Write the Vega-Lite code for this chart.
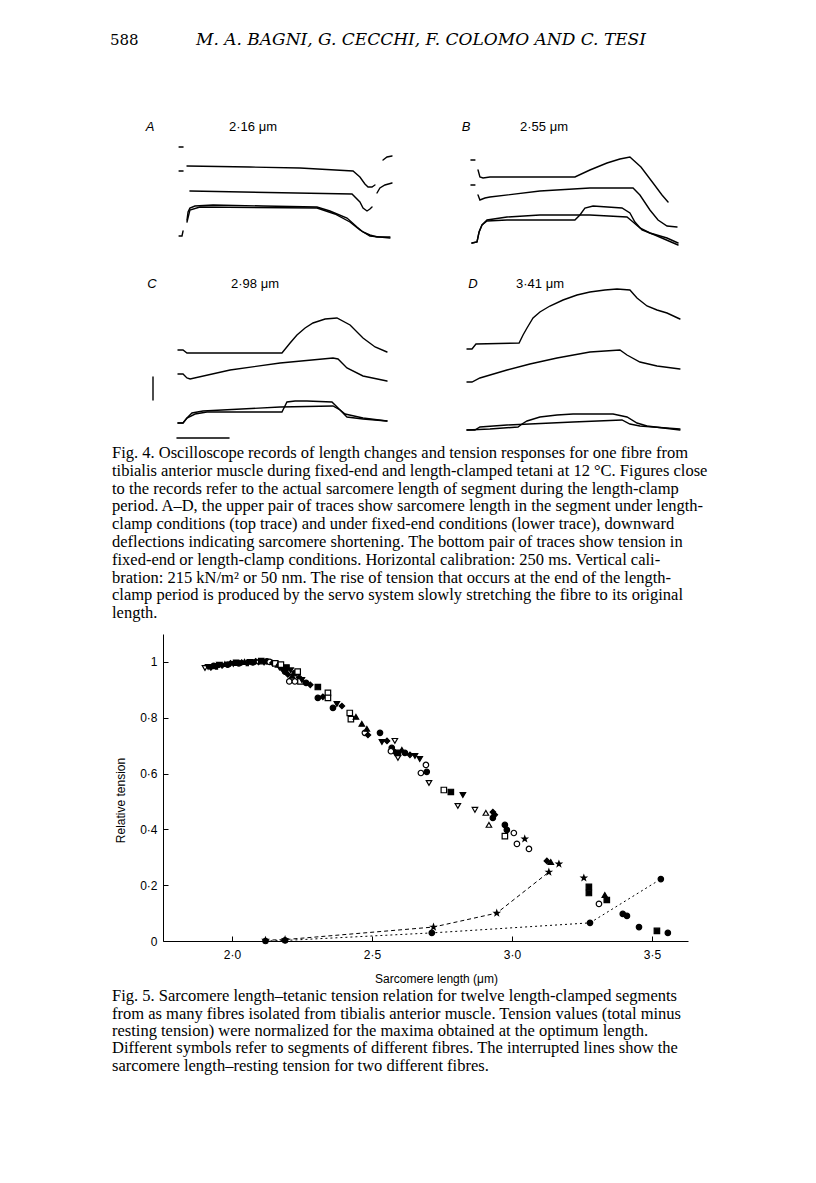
{
"$schema": "https://vega.github.io/schema/vega-lite/v6.json",
"background": "white",
"padding": {"left": 110, "top": 25, "right": 5, "bottom": 5},
"spacing": 0,
"config": {
  "view": {"stroke": null},
  "axis": {"grid": false, "domainColor": "black", "tickColor": "black", "labelColor": "black", "titleColor": "black", "labelFont": "Liberation Sans", "titleFont": "Liberation Sans", "labelFontSize": 12, "titleFontSize": 12, "titleFontWeight": "normal"}
},
"vconcat": [
  {
    "width": 297, "height": 85,
    "layer": [
      {"data": {"values": [{"page": "588"}]},
       "mark": {"type": "text", "font": "DejaVu Serif", "fontSize": 15, "align": "left", "baseline": "middle", "color": "black"},
       "encoding": {"text": {"field": "page"}, "x": {"value": -53}, "y": {"value": 15}}},
      {"data": {"values": [{"authors": "M. A. BAGNI, G. CECCHI, F. COLOMO AND C. TESI"}]},
       "mark": {"type": "text", "font": "DejaVu Serif", "fontStyle": "italic", "fontSize": 17, "align": "center", "baseline": "middle", "color": "black"},
       "encoding": {"text": {"field": "authors"}, "x": {"value": 258}, "y": {"value": 15}}}
    ]
  },
  {
    "hconcat": [
      {
        "width": 297, "height": 157,
        "layer": [
          {"data": {"values": [
            {"s":"m1","t":-38,"v":120},{"s":"m1","t":-19,"v":120},
            {"s":"m2","t":-38,"v":96},{"s":"m2","t":-19,"v":96},
            {"s":"L1a","t":0,"v":101},{"s":"L1a","t":302,"v":100},{"s":"L1a","t":542,"v":99},{"s":"L1a","t":797,"v":96},{"s":"L1a","t":830,"v":90},{"s":"L1a","t":854,"v":83},{"s":"L1a","t":869,"v":80},{"s":"L1a","t":888,"v":80},{"s":"L1a","t":902,"v":82},
            {"s":"L1b","t":941,"v":107},{"s":"L1b","t":960,"v":110},{"s":"L1b","t":984,"v":111},
            {"s":"L2a","t":14,"v":76},{"s":"L2a","t":792,"v":73},{"s":"L2a","t":830,"v":65},{"s":"L2a","t":845,"v":59},{"s":"L2a","t":864,"v":56},{"s":"L2a","t":878,"v":58},{"s":"L2a","t":888,"v":60},
            {"s":"L2b","t":912,"v":74},{"s":"L2b","t":926,"v":79},{"s":"L2b","t":950,"v":82},{"s":"L2b","t":984,"v":84},
            {"s":"J","t":-38,"v":31},{"s":"J","t":-24,"v":31},{"s":"J","t":-19,"v":36},
            {"s":"T1","t":0,"v":47},{"s":"T1","t":5,"v":55},{"s":"T1","t":14,"v":59},{"s":"T1","t":38,"v":61},{"s":"T1","t":125,"v":62},{"s":"T1","t":365,"v":61},{"s":"T1","t":624,"v":60},{"s":"T1","t":686,"v":56},{"s":"T1","t":768,"v":49},{"s":"T1","t":816,"v":40},{"s":"T1","t":845,"v":35},{"s":"T1","t":878,"v":32},{"s":"T1","t":912,"v":30},{"s":"T1","t":974,"v":30},
            {"s":"T2","t":0,"v":45},{"s":"T2","t":14,"v":57},{"s":"T2","t":62,"v":60},{"s":"T2","t":624,"v":59},{"s":"T2","t":710,"v":53},{"s":"T2","t":782,"v":45},{"s":"T2","t":830,"v":37},{"s":"T2","t":878,"v":31},{"s":"T2","t":974,"v":29}
          ]},
           "mark": {"type": "line", "color": "black", "strokeWidth": 1.4, "strokeCap": "round"},
           "encoding": {
             "x": {"field": "t", "type": "quantitative", "scale": {"domain": [-115.2, 1310.4], "nice": false, "zero": false}, "axis": null},
             "y": {"field": "v", "type": "quantitative", "scale": {"domain": [0, 157], "nice": false, "zero": false}, "axis": null},
             "detail": {"field": "s"}}},
          {"data": {"values": [{"letter": "A"}]},
           "mark": {"type": "text", "font": "Liberation Sans", "fontStyle": "italic", "fontSize": 13, "align": "center", "baseline": "middle", "color": "black"},
           "encoding": {"text": {"field": "letter"}, "x": {"value": -13}, "y": {"value": 17}}},
          {"data": {"values": [{"len": "2·16 μm"}]},
           "mark": {"type": "text", "font": "Liberation Sans", "fontSize": 13, "align": "center", "baseline": "middle", "color": "black"},
           "encoding": {"text": {"field": "len"}, "x": {"value": 90}, "y": {"value": 17}}}
        ]
      },
      {
        "width": 240, "height": 157,
        "layer": [
          {"data": {"values": [
            {"s":"m1","t":-5,"v":107},{"s":"m1","t":14,"v":107},
            {"s":"m2","t":-5,"v":82},{"s":"m2","t":14,"v":82},
            {"s":"L1","t":29,"v":97},{"s":"L1","t":38,"v":90},{"s":"L1","t":53,"v":89},{"s":"L1","t":86,"v":90},{"s":"L1","t":494,"v":90},{"s":"L1","t":566,"v":97},{"s":"L1","t":648,"v":104},{"s":"L1","t":710,"v":108},{"s":"L1","t":758,"v":110},{"s":"L1","t":811,"v":100},{"s":"L1","t":869,"v":84},{"s":"L1","t":912,"v":72},{"s":"L1","t":941,"v":65},
            {"s":"L2","t":29,"v":72},{"s":"L2","t":38,"v":67},{"s":"L2","t":62,"v":69},{"s":"L2","t":86,"v":70},{"s":"L2","t":326,"v":76},{"s":"L2","t":566,"v":79},{"s":"L2","t":773,"v":79},{"s":"L2","t":806,"v":72},{"s":"L2","t":854,"v":57},{"s":"L2","t":893,"v":47},{"s":"L2","t":936,"v":41},{"s":"L2","t":984,"v":40},
            {"s":"T1","t":0,"v":24},{"s":"T1","t":24,"v":25},{"s":"T1","t":34,"v":35},{"s":"T1","t":48,"v":42},{"s":"T1","t":72,"v":47},{"s":"T1","t":168,"v":50},{"s":"T1","t":326,"v":52},{"s":"T1","t":566,"v":52},{"s":"T1","t":744,"v":50},{"s":"T1","t":773,"v":45},{"s":"T1","t":806,"v":39},{"s":"T1","t":854,"v":34},{"s":"T1","t":936,"v":29},{"s":"T1","t":989,"v":24},
            {"s":"T2","t":0,"v":24},{"s":"T2","t":24,"v":25},{"s":"T2","t":34,"v":35},{"s":"T2","t":48,"v":42},{"s":"T2","t":72,"v":46},{"s":"T2","t":168,"v":47},{"s":"T2","t":494,"v":47},{"s":"T2","t":518,"v":52},{"s":"T2","t":542,"v":59},{"s":"T2","t":581,"v":61},{"s":"T2","t":720,"v":59},{"s":"T2","t":758,"v":54},{"s":"T2","t":782,"v":45},{"s":"T2","t":816,"v":37},{"s":"T2","t":878,"v":32},{"s":"T2","t":989,"v":22}
          ]},
           "mark": {"type": "line", "color": "black", "strokeWidth": 1.4, "strokeCap": "round"},
           "encoding": {
             "x": {"field": "t", "type": "quantitative", "scale": {"domain": [-57.6, 1094.4], "nice": false, "zero": false}, "axis": null},
             "y": {"field": "v", "type": "quantitative", "scale": {"domain": [0, 157], "nice": false, "zero": false}, "axis": null},
             "detail": {"field": "s"}}},
          {"data": {"values": [{"letter": "B"}]},
           "mark": {"type": "text", "font": "Liberation Sans", "fontStyle": "italic", "fontSize": 13, "align": "center", "baseline": "middle", "color": "black"},
           "encoding": {"text": {"field": "letter"}, "x": {"value": 6}, "y": {"value": 17}}},
          {"data": {"values": [{"len": "2·55 μm"}]},
           "mark": {"type": "text", "font": "Liberation Sans", "fontSize": 13, "align": "center", "baseline": "middle", "color": "black"},
           "encoding": {"text": {"field": "len"}, "x": {"value": 84}, "y": {"value": 17}}}
        ]
      }
    ],
    "spacing": 0,
    "bounds": "flush"
  },
  {
    "hconcat": [
      {
        "width": 297, "height": 178,
        "layer": [
          {"data": {"values": [
            {"s":"L1","t":0,"v":95},{"s":"L1","t":24,"v":95},{"s":"L1","t":43,"v":92},{"s":"L1","t":499,"v":92},{"s":"L1","t":538,"v":102},{"s":"L1","t":571,"v":110},{"s":"L1","t":610,"v":117},{"s":"L1","t":648,"v":122},{"s":"L1","t":706,"v":126},{"s":"L1","t":763,"v":127},{"s":"L1","t":826,"v":120},{"s":"L1","t":888,"v":107},{"s":"L1","t":946,"v":98},{"s":"L1","t":1003,"v":93},
            {"s":"L2","t":0,"v":71},{"s":"L2","t":24,"v":71},{"s":"L2","t":43,"v":67},{"s":"L2","t":58,"v":66},{"s":"L2","t":250,"v":75},{"s":"L2","t":490,"v":82},{"s":"L2","t":744,"v":87},{"s":"L2","t":768,"v":86},{"s":"L2","t":811,"v":77},{"s":"L2","t":888,"v":69},{"s":"L2","t":1003,"v":64},
            {"s":"T1","t":0,"v":22},{"s":"T1","t":24,"v":22},{"s":"T1","t":43,"v":27},{"s":"T1","t":67,"v":32},{"s":"T1","t":120,"v":34},{"s":"T1","t":490,"v":38},{"s":"T1","t":744,"v":39},{"s":"T1","t":778,"v":35},{"s":"T1","t":802,"v":31},{"s":"T1","t":888,"v":27},{"s":"T1","t":1003,"v":24},
            {"s":"T2","t":0,"v":22},{"s":"T2","t":24,"v":22},{"s":"T2","t":43,"v":27},{"s":"T2","t":82,"v":31},{"s":"T2","t":139,"v":33},{"s":"T2","t":499,"v":33},{"s":"T2","t":523,"v":43},{"s":"T2","t":562,"v":44},{"s":"T2","t":619,"v":44},{"s":"T2","t":739,"v":43},{"s":"T2","t":778,"v":35},{"s":"T2","t":811,"v":28},{"s":"T2","t":888,"v":26},{"s":"T2","t":1003,"v":24},
            {"s":"calV","t":-120,"v":45},{"s":"calV","t":-120,"v":68},
            {"s":"calH","t":-5,"v":7},{"s":"calH","t":245,"v":7}
          ]},
           "mark": {"type": "line", "color": "black", "strokeWidth": 1.4, "strokeCap": "round"},
           "encoding": {
             "x": {"field": "t", "type": "quantitative", "scale": {"domain": [-72, 1353.6], "nice": false, "zero": false}, "axis": null},
             "y": {"field": "v", "type": "quantitative", "scale": {"domain": [0, 178], "nice": false, "zero": false}, "axis": null},
             "detail": {"field": "s"}}},
          {"data": {"values": [{"letter": "C"}]},
           "mark": {"type": "text", "font": "Liberation Sans", "fontStyle": "italic", "fontSize": 13, "align": "center", "baseline": "middle", "color": "black"},
           "encoding": {"text": {"field": "letter"}, "x": {"value": -11}, "y": {"value": 17}}},
          {"data": {"values": [{"len": "2·98 μm"}]},
           "mark": {"type": "text", "font": "Liberation Sans", "fontSize": 13, "align": "center", "baseline": "middle", "color": "black"},
           "encoding": {"text": {"field": "len"}, "x": {"value": 92}, "y": {"value": 17}}}
        ]
      },
      {
        "width": 240, "height": 178,
        "layer": [
          {"data": {"values": [
            {"s":"L1","t":0,"v":96},{"s":"L1","t":24,"v":96},{"s":"L1","t":43,"v":101},{"s":"L1","t":250,"v":102},{"s":"L1","t":269,"v":110},{"s":"L1","t":288,"v":117},{"s":"L1","t":317,"v":127},{"s":"L1","t":350,"v":133},{"s":"L1","t":398,"v":139},{"s":"L1","t":461,"v":145},{"s":"L1","t":528,"v":150},{"s":"L1","t":590,"v":153},{"s":"L1","t":662,"v":155},{"s":"L1","t":720,"v":156},{"s":"L1","t":782,"v":155},{"s":"L1","t":816,"v":147},{"s":"L1","t":864,"v":139},{"s":"L1","t":912,"v":135},{"s":"L1","t":960,"v":132},{"s":"L1","t":1022,"v":126},
            {"s":"L2","t":0,"v":63},{"s":"L2","t":24,"v":63},{"s":"L2","t":62,"v":67},{"s":"L2","t":192,"v":75},{"s":"L2","t":302,"v":81},{"s":"L2","t":432,"v":87},{"s":"L2","t":590,"v":93},{"s":"L2","t":734,"v":95},{"s":"L2","t":768,"v":90},{"s":"L2","t":830,"v":83},{"s":"L2","t":912,"v":79},{"s":"L2","t":1022,"v":76},
            {"s":"T1","t":0,"v":15},{"s":"T1","t":38,"v":15},{"s":"T1","t":62,"v":18},{"s":"T1","t":192,"v":20},{"s":"T1","t":509,"v":23},{"s":"T1","t":744,"v":25},{"s":"T1","t":782,"v":21},{"s":"T1","t":830,"v":19},{"s":"T1","t":1022,"v":16},
            {"s":"T2","t":0,"v":15},{"s":"T2","t":110,"v":16},{"s":"T2","t":245,"v":18},{"s":"T2","t":264,"v":21},{"s":"T2","t":288,"v":24},{"s":"T2","t":350,"v":28},{"s":"T2","t":432,"v":30},{"s":"T2","t":509,"v":31},{"s":"T2","t":701,"v":31},{"s":"T2","t":768,"v":28},{"s":"T2","t":816,"v":22},{"s":"T2","t":864,"v":19},{"s":"T2","t":1022,"v":15}
          ]},
           "mark": {"type": "line", "color": "black", "strokeWidth": 1.4, "strokeCap": "round"},
           "encoding": {
             "x": {"field": "t", "type": "quantitative", "scale": {"domain": [-33.6, 1118.4], "nice": false, "zero": false}, "axis": null},
             "y": {"field": "v", "type": "quantitative", "scale": {"domain": [0, 178], "nice": false, "zero": false}, "axis": null},
             "detail": {"field": "s"}}},
          {"data": {"values": [{"letter": "D"}]},
           "mark": {"type": "text", "font": "Liberation Sans", "fontStyle": "italic", "fontSize": 13, "align": "center", "baseline": "middle", "color": "black"},
           "encoding": {"text": {"field": "letter"}, "x": {"value": 13}, "y": {"value": 17}}},
          {"data": {"values": [{"len": "3·41 μm"}]},
           "mark": {"type": "text", "font": "Liberation Sans", "fontSize": 13, "align": "center", "baseline": "middle", "color": "black"},
           "encoding": {"text": {"field": "len"}, "x": {"value": 80}, "y": {"value": 17}}}
        ]
      }
    ],
    "spacing": 0,
    "bounds": "flush"
  },
  {
    "width": 297, "height": 189,
    "data": {"values": [
      {"line": 0, "text": "Fig. 4. Oscilloscope records of length changes and tension responses for one fibre from"},
      {"line": 1, "text": "tibialis anterior muscle during fixed-end and length-clamped tetani at 12 °C. Figures close"},
      {"line": 2, "text": "to the records refer to the actual sarcomere length of segment during the length-clamp"},
      {"line": 3, "text": "period. A–D, the upper pair of traces show sarcomere length in the segment under length-"},
      {"line": 4, "text": "clamp conditions (top trace) and under fixed-end conditions (lower trace), downward"},
      {"line": 5, "text": "deflections indicating sarcomere shortening. The bottom pair of traces show tension in"},
      {"line": 6, "text": "fixed-end or length-clamp conditions. Horizontal calibration: 250 ms. Vertical cali-"},
      {"line": 7, "text": "bration: 215 kN/m² or 50 nm. The rise of tension that occurs at the end of the length-"},
      {"line": 8, "text": "clamp period is produced by the servo system slowly stretching the fibre to its original"},
      {"line": 9, "text": "length."}
    ]},
    "mark": {"type": "text", "font": "Liberation Serif", "fontSize": 16.5, "align": "left", "baseline": "middle", "color": "black"},
    "encoding": {
      "text": {"field": "text"},
      "x": {"value": -51},
      "y": {"field": "line", "type": "quantitative", "scale": {"domain": [-0.45, 10.17], "reverse": true, "nice": false, "zero": false}, "axis": null}
    }
  },
  {
    "width": 525, "height": 307,
    "layer": [
      {"data": {"values": [
        {"curve":"a","fibre":"f10","length":2.12,"tension":0.003},{"curve":"a","fibre":"f10","length":2.19,"tension":0.005},{"curve":"a","fibre":"f10","length":2.72,"tension":0.05},{"curve":"a","fibre":"f10","length":2.946,"tension":0.10},{"curve":"a","fibre":"f10","length":3.132,"tension":0.247},
        {"curve":"b","fibre":"f1","length":2.12,"tension":0.0},{"curve":"b","fibre":"f1","length":2.19,"tension":0.002},{"curve":"b","fibre":"f1","length":2.714,"tension":0.029},{"curve":"b","fibre":"f1","length":3.279,"tension":0.065},{"curve":"b","fibre":"f1","length":3.532,"tension":0.222}
      ]},
       "mark": {"type": "line", "color": "black", "strokeWidth": 1},
       "encoding": {
         "x": {"field": "length", "type": "quantitative", "scale": {"domain": [1.754, 3.629], "nice": false, "zero": false},
               "axis": {"title": "Sarcomere length (μm)", "values": [2, 2.5, 3, 3.5], "labelExpr": "replace(format(datum.value, '.1f'), '.', '·')", "tickSize": -5, "labelPadding": 13, "titleX": 273, "titleY": 37, "titleBaseline": "middle"}},
         "y": {"field": "tension", "type": "quantitative", "scale": {"domain": [0, 1.1], "nice": false, "zero": false},
               "axis": {"title": "Relative tension", "values": [0, 0.2, 0.4, 0.6, 0.8, 1], "labelExpr": "datum.value == 0 || datum.value == 1 ? format(datum.value, 'd') : replace(format(datum.value, '.1f'), '.', '·')", "tickSize": -5, "labelPadding": 11, "titlePadding": 12, "titleY": 166}},
         "strokeDash": {"field": "curve", "type": "nominal", "scale": {"domain": ["a", "b"], "range": [[4, 3], [2, 3]]}, "legend": null}
       }},
      {"data": {"values": [
        {"fibre":"f10","length":2.12,"tension":0.003},{"fibre":"f10","length":2.19,"tension":0.005},{"fibre":"f10","length":2.72,"tension":0.05},{"fibre":"f10","length":2.946,"tension":0.10},{"fibre":"f10","length":3.132,"tension":0.247},
        {"fibre":"f1","length":2.12,"tension":0.0},{"fibre":"f1","length":2.19,"tension":0.002},{"fibre":"f1","length":2.714,"tension":0.029},{"fibre":"f1","length":3.279,"tension":0.065},{"fibre":"f1","length":3.532,"tension":0.222},
        {"fibre":"f8","length":1.904,"tension":0.978},{"fibre":"f7","length":1.915,"tension":0.982},{"fibre":"f9","length":1.925,"tension":0.98},{"fibre":"f1","length":1.935,"tension":0.986},{"fibre":"f11","length":1.945,"tension":0.984},{"fibre":"f7","length":1.955,"tension":0.99},{"fibre":"f9","length":1.965,"tension":0.987},{"fibre":"f5","length":1.975,"tension":0.992},{"fibre":"f1","length":1.985,"tension":0.99},{"fibre":"f9","length":1.995,"tension":0.995},
        {"fibre":"f7","length":2.005,"tension":0.993},{"fibre":"f3","length":2.015,"tension":0.997},{"fibre":"f1","length":2.025,"tension":0.995},{"fibre":"f9","length":2.035,"tension":0.998},{"fibre":"f5","length":2.045,"tension":1.0},{"fibre":"f11","length":2.055,"tension":0.996},{"fibre":"f7","length":2.065,"tension":1.0},{"fibre":"f1","length":2.075,"tension":0.998},{"fibre":"f9","length":2.085,"tension":1.002},{"fibre":"f12","length":2.095,"tension":1.0},
        {"fibre":"f3","length":2.105,"tension":1.003},{"fibre":"f7","length":2.115,"tension":0.998},{"fibre":"f1","length":2.125,"tension":1.002},{"fibre":"f2","length":2.135,"tension":1.0},{"fibre":"f9","length":2.145,"tension":0.996},{"fibre":"f4","length":2.155,"tension":0.995},{"fibre":"f5","length":2.165,"tension":0.99},{"fibre":"f7","length":2.17,"tension":0.98},{"fibre":"f9","length":2.18,"tension":0.975},{"fibre":"f4","length":2.175,"tension":0.99},
        {"fibre":"f1","length":2.19,"tension":0.965},{"fibre":"f3","length":2.195,"tension":0.98},{"fibre":"f9","length":2.2,"tension":0.955},{"fibre":"f2","length":2.205,"tension":0.93},{"fibre":"f7","length":2.21,"tension":0.97},{"fibre":"f5","length":2.215,"tension":0.95},{"fibre":"f2","length":2.225,"tension":0.93},{"fibre":"f1","length":2.225,"tension":0.96},{"fibre":"f4","length":2.235,"tension":0.965},{"fibre":"f9","length":2.24,"tension":0.945},
        {"fibre":"f4","length":2.245,"tension":0.93},{"fibre":"f7","length":2.25,"tension":0.935},{"fibre":"f1","length":2.265,"tension":0.925},{"fibre":"f9","length":2.28,"tension":0.918},{"fibre":"f3","length":2.307,"tension":0.91},
        {"fibre":"f1","length":2.307,"tension":0.871},{"fibre":"f9","length":2.325,"tension":0.875},{"fibre":"f4","length":2.343,"tension":0.889},{"fibre":"f4","length":2.343,"tension":0.871},{"fibre":"f1","length":2.361,"tension":0.835},{"fibre":"f7","length":2.375,"tension":0.849},{"fibre":"f9","length":2.393,"tension":0.842},{"fibre":"f4","length":2.421,"tension":0.817},{"fibre":"f4","length":2.425,"tension":0.795},{"fibre":"f5","length":2.443,"tension":0.803},
        {"fibre":"f5","length":2.464,"tension":0.778},{"fibre":"f2","length":2.475,"tension":0.746},{"fibre":"f5","length":2.482,"tension":0.76},{"fibre":"f9","length":2.486,"tension":0.738},{"fibre":"f1","length":2.529,"tension":0.746},{"fibre":"f7","length":2.536,"tension":0.713},{"fibre":"f9","length":2.554,"tension":0.717},{"fibre":"f8","length":2.582,"tension":0.717},{"fibre":"f1","length":2.571,"tension":0.692},{"fibre":"f9","length":2.582,"tension":0.677},
        {"fibre":"f3","length":2.593,"tension":0.674},{"fibre":"f5","length":2.607,"tension":0.685},{"fibre":"f1","length":2.618,"tension":0.674},{"fibre":"f9","length":2.636,"tension":0.667},{"fibre":"f7","length":2.654,"tension":0.663},{"fibre":"f8","length":2.593,"tension":0.656},{"fibre":"f2","length":2.568,"tension":0.68},{"fibre":"f7","length":2.671,"tension":0.652},{"fibre":"f2","length":2.693,"tension":0.631},{"fibre":"f1","length":2.696,"tension":0.606},
        {"fibre":"f2","length":2.675,"tension":0.602},{"fibre":"f8","length":2.704,"tension":0.566},{"fibre":"f4","length":2.757,"tension":0.541},{"fibre":"f3","length":2.782,"tension":0.534},{"fibre":"f7","length":2.825,"tension":0.523},{"fibre":"f8","length":2.807,"tension":0.484},{"fibre":"f8","length":2.868,"tension":0.47},{"fibre":"f6","length":2.907,"tension":0.459},{"fibre":"f9","length":2.932,"tension":0.462},{"fibre":"f9","length":2.939,"tension":0.452},
        {"fibre":"f1","length":2.932,"tension":0.441},{"fibre":"f6","length":2.918,"tension":0.416},{"fibre":"f1","length":2.975,"tension":0.416},{"fibre":"f1","length":2.982,"tension":0.398},{"fibre":"f4","length":2.975,"tension":0.376},{"fibre":"f2","length":3.007,"tension":0.387},{"fibre":"f10","length":3.046,"tension":0.366},{"fibre":"f2","length":3.018,"tension":0.348},{"fibre":"f2","length":3.061,"tension":0.33},{"fibre":"f9","length":3.125,"tension":0.287},
        {"fibre":"f5","length":3.139,"tension":0.283},{"fibre":"f10","length":3.168,"tension":0.276},{"fibre":"f10","length":3.257,"tension":0.226},{"fibre":"f3","length":3.275,"tension":0.194},{"fibre":"f3","length":3.275,"tension":0.172},{"fibre":"f5","length":3.332,"tension":0.165},{"fibre":"f3","length":3.339,"tension":0.147},{"fibre":"f2","length":3.311,"tension":0.133},{"fibre":"f1","length":3.396,"tension":0.097},{"fibre":"f1","length":3.411,"tension":0.09},
        {"fibre":"f1","length":3.454,"tension":0.05},{"fibre":"f3","length":3.518,"tension":0.036},{"fibre":"f1","length":3.557,"tension":0.029}
      ]},
       "mark": {"type": "point", "filled": true, "stroke": "black", "strokeWidth": 1.2, "size": 30, "opacity": 1},
       "encoding": {
         "x": {"field": "length", "type": "quantitative"},
         "y": {"field": "tension", "type": "quantitative"},
         "shape": {"field": "fibre", "type": "nominal", "scale": {"domain": ["f1","f2","f3","f4","f5","f6","f7","f8","f9","f10","f11","f12"], "range": ["circle","circle","square","square","triangle-up","triangle-up","triangle-down","triangle-down","diamond","M0,-1L0.24,-0.33L0.95,-0.31L0.38,0.12L0.59,0.81L0,0.4L-0.59,0.81L-0.38,0.12L-0.95,-0.31L-0.24,-0.33Z","cross","diamond"]}, "legend": null},
         "fill": {"field": "fibre", "type": "nominal", "scale": {"domain": ["f1","f2","f3","f4","f5","f6","f7","f8","f9","f10","f11","f12"], "range": ["black","white","black","white","black","white","black","white","black","black","black","white"]}, "legend": null}
       }}
    ]
  },
  {
    "width": 297, "height": 100,
    "data": {"values": [
      {"line": 0, "text": "Fig. 5. Sarcomere length–tetanic tension relation for twelve length-clamped segments"},
      {"line": 1, "text": "from as many fibres isolated from tibialis anterior muscle. Tension values (total minus"},
      {"line": 2, "text": "resting tension) were normalized for the maxima obtained at the optimum length."},
      {"line": 3, "text": "Different symbols refer to segments of different fibres. The interrupted lines show the"},
      {"line": 4, "text": "sarcomere length–resting tension for two different fibres."}
    ]},
    "mark": {"type": "text", "font": "Liberation Serif", "fontSize": 16.5, "align": "left", "baseline": "middle", "color": "black"},
    "encoding": {
      "text": {"field": "text"},
      "x": {"value": -51},
      "y": {"field": "line", "type": "quantitative", "scale": {"domain": [-0.686, 5.029], "reverse": true, "nice": false, "zero": false}, "axis": null}
    }
  }
]
}
